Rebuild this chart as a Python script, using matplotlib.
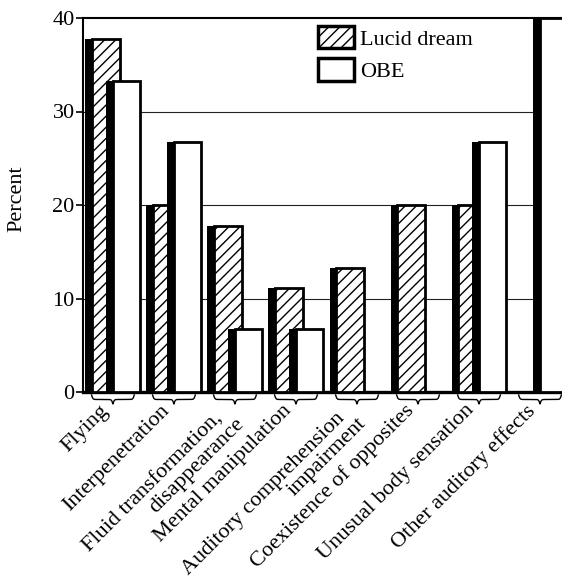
import numpy as np
import matplotlib
matplotlib.use("Agg")
import matplotlib.pyplot as plt
from matplotlib.patches import Patch
from matplotlib.transforms import ScaledTranslation

plt.rcParams['font.family'] = ['Liberation Serif', 'DejaVu Serif']
plt.rcParams['hatch.linewidth'] = 1.0

categories = [
    "Flying",
    "Interpenetration",
    "Fluid transformation,  \ndisappearance",
    "Mental manipulation",
    "Auditory comprehension  \nimpairment",
    "Coexistence of opposites",
    "Unusual body sensation",
    "Other auditory effects",
]
lucid = [37.8, 20.0, 17.8, 11.1, 13.3, 20.0, 20.0, 0.0]
obe = [33.3, 26.7, 6.7, 6.7, 0.0, 0.0, 26.7, 40.0]
series_names = ["Lucid dream", "OBE"]
yticks = [0, 10, 20, 30, 40]

W, H = 562, 577
FS = 16
fig = plt.figure(figsize=(W / 100, H / 100), dpi=100)
ax = fig.add_axes([83 / W, (H - 392) / H, 1 - 83 / W, (392 - 18) / H])

idx = np.arange(len(categories))
w = 0.56
sh = 0.11
offsets = [-0.17, 0.17]
hatches = ['///', None]

for k, (vals, off, hatch) in enumerate(zip([lucid, obe], offsets, hatches)):
    x = idx + off
    ax.bar(x - w / 2, vals, width=w, align='edge', color='black',
           linewidth=0, zorder=2 + 2 * k)
    ax.bar(x - w / 2 + sh, vals, width=w - sh, align='edge', facecolor='white',
           hatch=hatch, edgecolor='black', linewidth=2.0, zorder=3 + 2 * k)

for yv in yticks[1:-1]:
    ax.axhline(yv, color='#222222', linewidth=0.8, zorder=1)

ax.set_xlim(-0.49, 7.36)
ax.set_ylim(0, 40)
ax.set_yticks(yticks)
ax.tick_params(axis='y', direction='out', length=5, width=1.2, pad=1, labelsize=FS)
ax.spines['right'].set_visible(False)
ax.spines['top'].set_linewidth(1.5)
ax.spines['left'].set_linewidth(1.5)
ax.spines['bottom'].set_linewidth(2.4)
ax.set_xticks([])

trans = ax.get_xaxis_transform()
lab_trans = trans + ScaledTranslation(-0.14, -0.09, fig.dpi_scale_trans)
for c, lab in zip(idx, categories):
    ax.text(c, 0, lab, rotation=45, ha='right', va='top', rotation_mode='anchor',
            fontsize=FS, multialignment='right', transform=lab_trans,
            linespacing=1.0)

# curly braces under each group
bw = 0.70
beta = 90.0
res = 201
for c in idx:
    xs = np.linspace(c - bw / 2, c + bw / 2, res)
    xh = xs[:res // 2 + 1]
    yh = (1 / (1 + np.exp(-beta * (xh - xh[0]))) +
          1 / (1 + np.exp(-beta * (xh - xh[-1]))))
    yb = np.concatenate((yh, yh[-2::-1])) - 0.5
    ax.plot(xs, -0.008 - 0.024 * yb, color='black', lw=1.0,
            transform=trans, clip_on=False)

fig.text(17 / W, 1 - 199 / H, "Percent", rotation=90, ha='center', va='center',
         fontsize=FS)

handles = [Patch(facecolor='white', edgecolor='black', hatch='///', linewidth=2.5),
           Patch(facecolor='white', edgecolor='black', linewidth=2.5)]
fig.legend(handles, series_names, loc='upper left',
           bbox_to_anchor=(318 / W, 1 - 26 / H), frameon=False, borderpad=0,
           fontsize=FS, handlelength=1.6, handleheight=1.15, handletextpad=0.3,
           labelspacing=0.4, borderaxespad=0)

fig.savefig("out.png", dpi=100)
